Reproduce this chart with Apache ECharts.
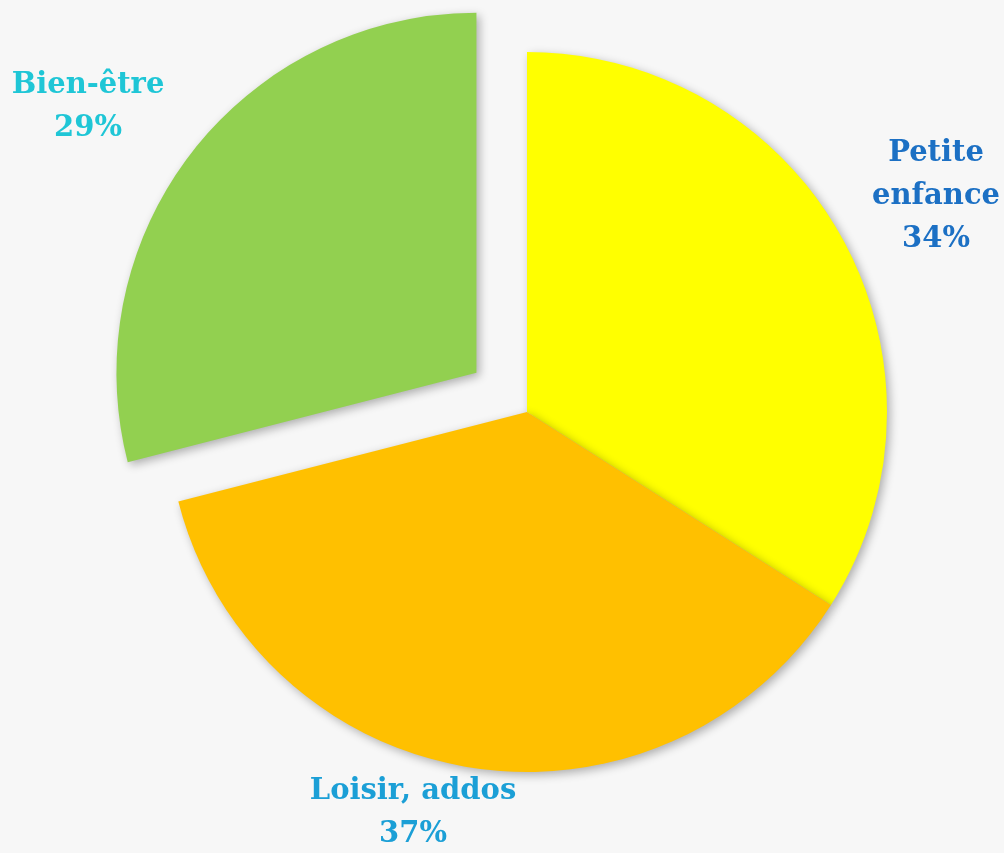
<!DOCTYPE html>
<html>
<head>
<meta charset="utf-8">
<script src="https://cdn.jsdelivr.net/npm/echarts@6/dist/echarts.min.js"></script>
<style>
  html, body { margin: 0; padding: 0; background: #f7f7f7; }
  #chart { width: 1004px; height: 853px; }
</style>
</head>
<body>
<div id="chart"></div>
<script>
// slices, clockwise from 12 o'clock
var categories = ['Petite enfance', 'Loisir, addos', 'Bien-être'];
var labelLines = ['Petite\nenfance', 'Loisir, addos', 'Bien-être'];
var shares = [34, 37, 29];
var exploded = [false, false, true];

var sliceColors = ['#FFFF00', '#FFC000', '#92D050'];
var labelColors = ['#1C70C4', '#1B9FD6', '#1FC6D6'];
// where each label block is centred
var labelSpots = [[936, 196], [413, 813], [88, 107]];

var CX = 527, CY = 412, R = 360, PULL = 64;

// the exploded slice is drawn by a second pie whose centre is pushed out along the slice's mid angle
var total = shares.reduce(function (a, b) { return a + b; }, 0);
var before = 0, boomIdx = exploded.indexOf(true);
for (var k = 0; k < boomIdx; k++) before += shares[k];
var midAng = (before + shares[boomIdx] / 2) / total * 2 * Math.PI;
var boomCenter = [CX + PULL * Math.sin(midAng), CY - PULL * Math.cos(midAng)];

var chart = echarts.init(document.getElementById('chart'));

function buildData(wantExploded) {
  return categories.map(function (name, i) {
    var visible = exploded[i] === wantExploded;
    return {
      name: name,
      value: shares[i],
      itemStyle: visible ? { color: sliceColors[i] } :
        { color: 'rgba(0,0,0,0)', shadowColor: 'rgba(0,0,0,0)' },
      label: visible ? { color: labelColors[i] } : { show: false }
    };
  });
}

var labelOpts = {
  show: true,
  position: 'outside',
  fontFamily: 'DejaVu Serif',
  fontWeight: 'bold',
  fontSize: 29,
  lineHeight: 43,
  align: 'center',
  overflow: 'none',
  formatter: function (p) {
    return labelLines[p.dataIndex] + '\n' + p.value + '%';
  }
};

var sliceStyle = {
  borderWidth: 0,
  shadowBlur: 10,
  shadowColor: 'rgba(0,0,0,0.3)',
  shadowOffsetX: 3,
  shadowOffsetY: 3
};

function placeLabel(p) {
  var s = labelSpots[p.dataIndex];
  return { x: s[0], y: s[1], align: 'center', verticalAlign: 'middle' };
}

chart.setOption({
  backgroundColor: '#f7f7f7',
  series: [{
    type: 'pie',
    center: [CX, CY],
    radius: [0, R],
    startAngle: 90,
    clockwise: true,
    silent: true,
    animation: false,
    data: buildData(false),
    itemStyle: sliceStyle,
    label: labelOpts,
    labelLine: { show: false },
    labelLayout: placeLabel
  }, {
    type: 'pie',
    center: boomCenter,
    radius: [0, R],
    startAngle: 90,
    clockwise: true,
    silent: true,
    animation: false,
    data: buildData(true),
    itemStyle: sliceStyle,
    label: labelOpts,
    labelLine: { show: false },
    labelLayout: placeLabel
  }]
});
</script>
</body>
</html>
